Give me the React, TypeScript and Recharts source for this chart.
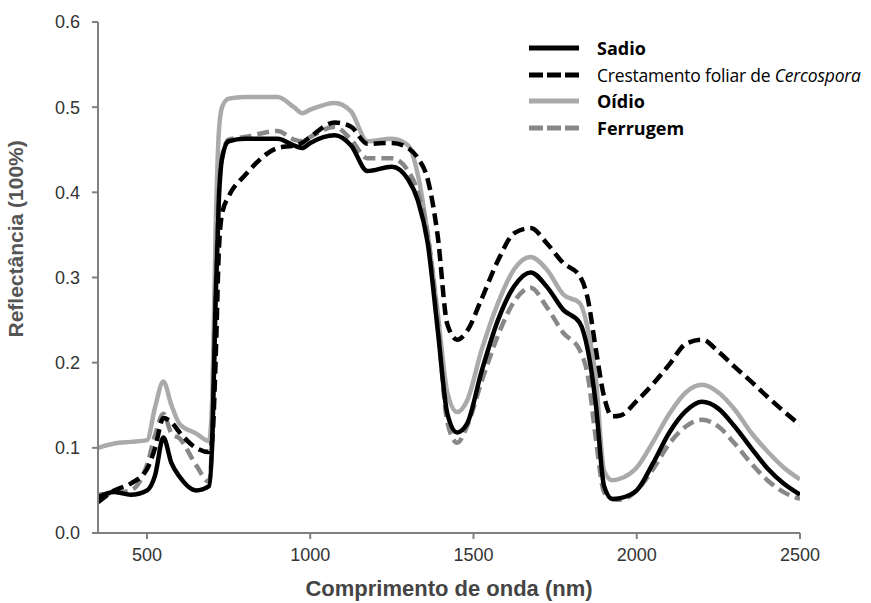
import { LineChart, Line, XAxis, YAxis } from 'recharts';

const wavelengths = [
  350, 400, 450, 500, 525, 550, 575, 600, 650, 690, 700, 710, 720, 730, 750, 800, 900, 950, 975, 1000,
  1075, 1125, 1175, 1250, 1300, 1330, 1360, 1390, 1420, 1450, 1480, 1525, 1575, 1625, 1675, 1725, 1775,
  1825, 1850, 1875, 1900, 1925, 1950, 2000, 2050, 2100, 2150, 2200, 2250, 2300, 2350, 2400, 2450, 2500,
];

const sadio = [
  0.042, 0.048, 0.045, 0.05, 0.068, 0.112, 0.082, 0.066, 0.05, 0.055, 0.11, 0.27, 0.39, 0.44, 0.46, 0.463, 0.463, 0.455, 0.452, 0.458,
  0.467, 0.455, 0.425, 0.43, 0.415, 0.39, 0.34, 0.24, 0.14, 0.118, 0.128, 0.19, 0.25, 0.29, 0.306, 0.289, 0.262,
  0.247, 0.215, 0.15, 0.055, 0.04, 0.041, 0.05, 0.082, 0.118, 0.143, 0.154, 0.146, 0.125, 0.1, 0.076, 0.058, 0.045,
];

const crestamento = [
  0.036, 0.05, 0.058, 0.075, 0.1, 0.135, 0.13, 0.118, 0.1, 0.095, 0.11, 0.2, 0.33, 0.375, 0.395, 0.42, 0.452, 0.455, 0.458, 0.465,
  0.482, 0.477, 0.457, 0.458, 0.452, 0.44, 0.415, 0.35, 0.245, 0.227, 0.237, 0.275, 0.32, 0.352, 0.358, 0.34, 0.317,
  0.302, 0.275, 0.215, 0.16, 0.137, 0.138, 0.155, 0.175, 0.198, 0.222, 0.227, 0.213, 0.195, 0.178, 0.16, 0.143, 0.127,
];

const oidio = [
  0.1, 0.105, 0.107, 0.109, 0.148, 0.178, 0.15, 0.128, 0.117, 0.108, 0.16, 0.35, 0.47, 0.5, 0.51, 0.512, 0.512, 0.5, 0.493, 0.497,
  0.505, 0.495, 0.46, 0.463, 0.455, 0.42, 0.35, 0.26, 0.165, 0.142, 0.155, 0.215, 0.27, 0.31, 0.324, 0.309, 0.28,
  0.27, 0.24, 0.18, 0.073, 0.062, 0.064, 0.077, 0.107, 0.14, 0.165, 0.174, 0.165, 0.145, 0.118, 0.096, 0.077, 0.063,
];

const ferrugem = [
  0.045, 0.047, 0.05, 0.08, 0.115, 0.14, 0.117, 0.111, 0.08, 0.06, 0.11, 0.28, 0.4, 0.44, 0.462, 0.465, 0.472, 0.462, 0.46, 0.465,
  0.477, 0.462, 0.44, 0.44, 0.425, 0.4, 0.35, 0.25, 0.13, 0.106, 0.125, 0.178, 0.232, 0.272, 0.288, 0.265, 0.235,
  0.215, 0.185, 0.11, 0.048, 0.04, 0.039, 0.05, 0.075, 0.105, 0.125, 0.133, 0.125, 0.105, 0.082, 0.062, 0.048, 0.04,
];

const xTicks = [500, 1000, 1500, 2000, 2500];
const yTicks = [0, 0.1, 0.2, 0.3, 0.4, 0.5, 0.6];

const data = wavelengths.map((nm, i) => ({
  nm,
  sadio: sadio[i],
  crestamento: crestamento[i],
  oidio: oidio[i],
  ferrugem: ferrugem[i],
}));

const series = [
  { key: 'oidio', color: '#aaaaaa', dash: undefined },
  { key: 'ferrugem', color: '#888888', dash: '12 6' },
  { key: 'sadio', color: '#000000', dash: undefined },
  { key: 'crestamento', color: '#000000', dash: '12 6' },
];

const legendFont = '"Open Sans", "Noto Sans", sans-serif';

function LegendBox() {
  const row = (color: string, dashed: boolean, label: any, bold: boolean, size: number) => (
    <div style={{ display: 'flex', alignItems: 'center', height: 26.5 }}>
      <svg width={50} height={8} style={{ marginRight: 18 }}>
        <line x1={0} y1={4} x2={50} y2={4} stroke={color} strokeWidth={5} strokeDasharray={dashed ? '14 4' : undefined} />
      </svg>
      <span style={{ fontFamily: legendFont, fontWeight: bold ? 700 : 400, fontSize: size, color: '#000', whiteSpace: 'nowrap', letterSpacing: bold ? 0 : -0.2 }}>
        {label}
      </span>
    </div>
  );
  return (
    <div style={{ position: 'absolute', left: 529, top: 35 }}>
      {row('#000000', false, 'Sadio', true, 18)}
      {row('#000000', true, <>Crestamento foliar de <i>Cercospora</i></>, false, 17.5)}
      {row('#aaaaaa', false, 'Oídio', true, 18)}
      {row('#888888', true, 'Ferrugem', true, 18)}
    </div>
  );
}

export default function App() {
  return (
    <div style={{ position: 'absolute', left: 0, top: 0, width: 871, height: 603, background: '#fff' }}>
      <LineChart width={871} height={603} data={data} margin={{ top: 22, right: 71, bottom: 0, left: 0 }}>
        <XAxis
          dataKey="nm"
          type="number"
          domain={[350, 2500]}
          ticks={xTicks}
          allowDataOverflow
          height={70}
          stroke="#808080"
          strokeWidth={2}
          tickSize={6}
          tickMargin={9}
          tick={{ fill: '#333', fontSize: 18, fontFamily: '"Liberation Sans Narrow", "Liberation Sans", Arial, sans-serif' }}
          label={{
            value: 'Comprimento de onda (nm)',
            position: 'insideBottom',
            offset: 7,
            fill: '#444',
            fontSize: 22,
            fontWeight: 700,
            fontFamily: '"Liberation Sans Narrow", "Liberation Sans", Arial, sans-serif',
          }}
        />
        <YAxis
          type="number"
          domain={[0, 0.6]}
          ticks={yTicks}
          tickFormatter={(v: number) => v.toFixed(1)}
          width={98}
          stroke="#808080"
          strokeWidth={2}
          tickSize={6}
          tickMargin={12}
          tick={{ fill: '#333', fontSize: 18, fontFamily: '"Liberation Sans", Arial, sans-serif' }}
          label={{
            value: 'Reflectância (100%)',
            angle: -90,
            position: 'insideLeft',
            offset: 16,
            dy: 60,
            fill: '#555',
            fontSize: 21,
            fontWeight: 700,
            fontFamily: '"Liberation Sans", Arial, sans-serif',
          }}
        />
        {series.map((s) => (
          <Line
            key={s.key}
            dataKey={s.key}
            type="monotone"
            stroke={s.color}
            strokeWidth={4.5}
            strokeDasharray={s.dash}
            dot={false}
            activeDot={false}
            isAnimationActive={false}
          />
        ))}
      </LineChart>
      <LegendBox />
    </div>
  );
}
